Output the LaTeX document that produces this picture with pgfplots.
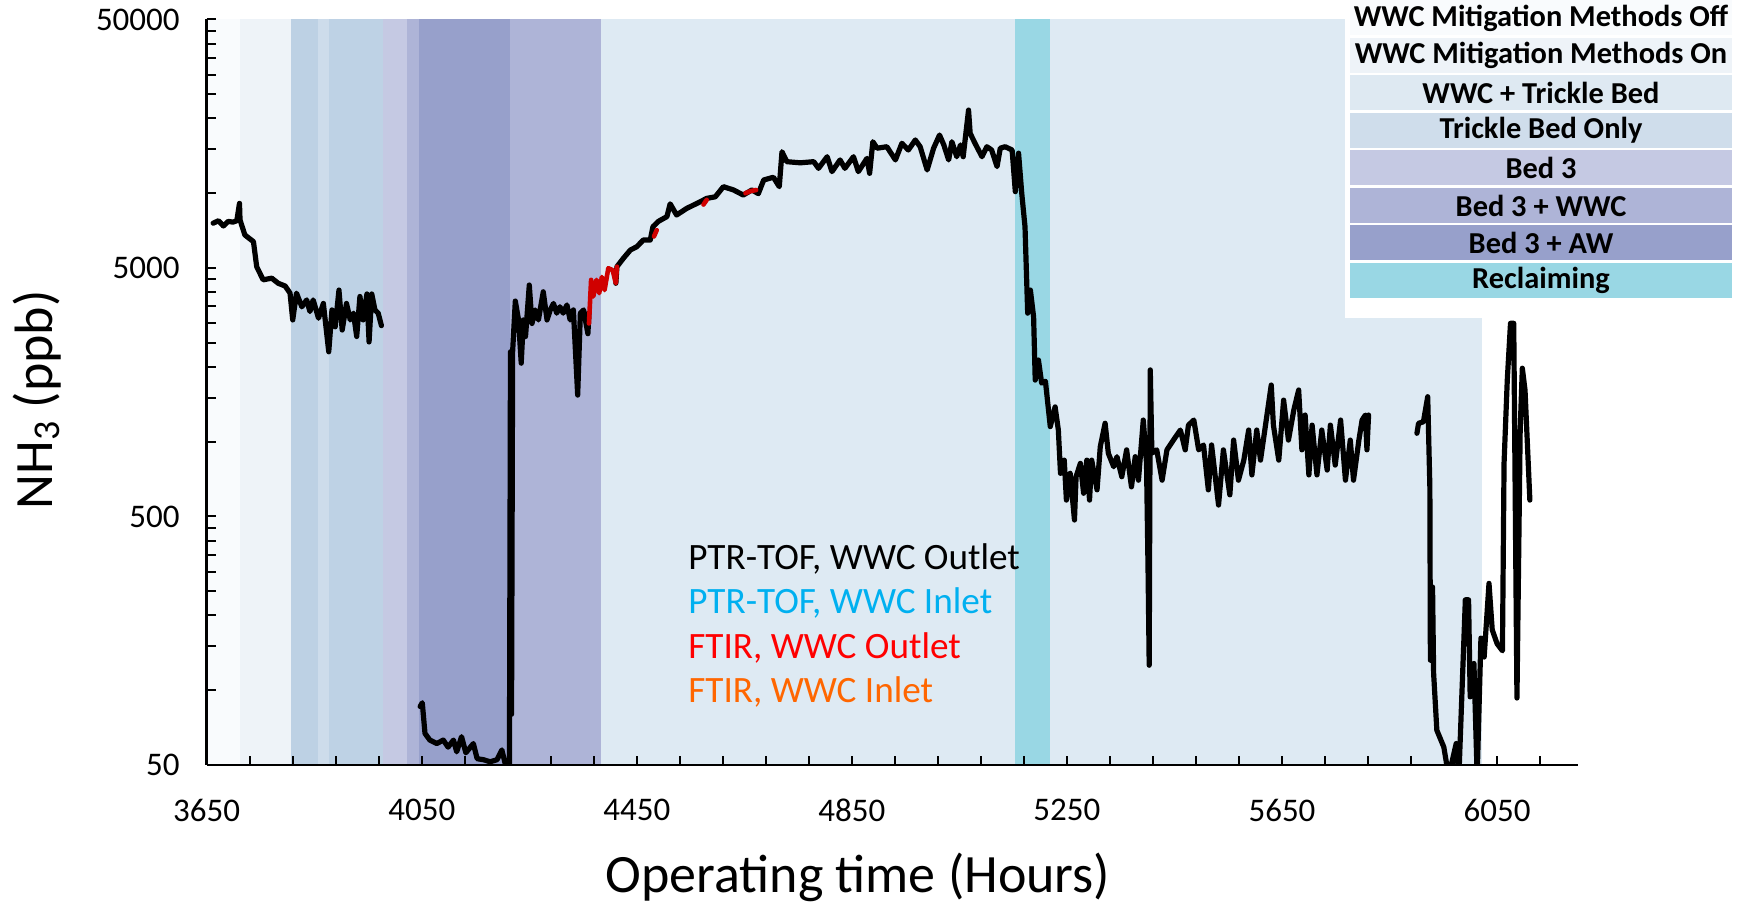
\documentclass[border=0pt]{standalone}
\usepackage{pgfplots}
\pgfplotsset{compat=1.18}
\usepackage{fontspec}
\setmainfont{Carlito}
\definecolor{bOff}{HTML}{F9FBFD}
\definecolor{bOn}{HTML}{EEF3F8}
\definecolor{bTBa}{HTML}{BDD1E4}
\definecolor{bTBb}{HTML}{CDDCEB}
\definecolor{bTBc}{HTML}{BED2E5}
\definecolor{bB3}{HTML}{C5C9E3}
\definecolor{bB3W}{HTML}{AEB4D7}
\definecolor{bB3A}{HTML}{97A0CB}
\definecolor{bWT}{HTML}{DEEAF3}
\definecolor{bRec}{HTML}{99D7E4}
\definecolor{lWT}{HTML}{DEE9F2}
\definecolor{lTB}{HTML}{CFDDEB}
\definecolor{ftirred}{HTML}{D00000}
\definecolor{ptrblue}{HTML}{00B0F0}
\definecolor{ftirorange}{HTML}{FF6600}
\begin{document}
\begin{tikzpicture}
\path (-103.35pt,-69pt) rectangle (766.15pt,382.5pt);
\begin{axis}[
  at={(0pt,0pt)}, anchor=south west,
  scale only axis, width=685.5pt, height=372.75pt,
  xmin=3650, xmax=6200, ymin=50, ymax=50000, ymode=log,
  axis x line=bottom, axis y line=left,
  axis line style={-, line width=1.2pt},
  xtick={3650,4050,4450,4850,5250,5650,6050},
  xticklabels={3650,4050,4450,4850,5250,5650,6050},
  minor xtick={3730,3810,...,6130},
  ytick={50,500,5000,50000}, yticklabels={50,500,5000,50000},
  minor ytick={},
  tick align=inside, major tick length=4.5pt, minor tick length=4.5pt,
  tick style={black, line width=1pt},
  ticklabel style={font=\fontsize{16.5}{18}\selectfont},
  xticklabel style={yshift=-13.5pt},
  yticklabel style={xshift=-10pt},
  xlabel={Operating time (Hours)},
  ylabel={NH\textsubscript{3} (ppb)},
  label style={font=\fontsize{27}{30}\selectfont, inner sep=0pt},
  xlabel style={at={(axis description cs:0.475,-0.1502)}, anchor=center},
  ylabel style={at={(axis description cs:-0.1238,0.49)}, anchor=center, rotate=0},
  axis on top,
]
% background bands
\addplot[draw=none, fill=bOff] coordinates {(3650,50) (3650,50000) (3712,50000) (3712,50)};
\addplot[draw=none, fill=bOn] coordinates {(3712,50) (3712,50000) (3807,50000) (3807,50)};
\addplot[draw=none, fill=bTBa] coordinates {(3807,50) (3807,50000) (3856.5,50000) (3856.5,50)};
\addplot[draw=none, fill=bTBb] coordinates {(3856.5,50) (3856.5,50000) (3877.5,50000) (3877.5,50)};
\addplot[draw=none, fill=bTBc] coordinates {(3877.5,50) (3877.5,50000) (3977,50000) (3977,50)};
\addplot[draw=none, fill=bB3] coordinates {(3977,50) (3977,50000) (4022,50000) (4022,50)};
\addplot[draw=none, fill=bB3W] coordinates {(4022,50) (4022,50000) (4045,50000) (4045,50)};
\addplot[draw=none, fill=bB3A] coordinates {(4045,50) (4045,50000) (4214,50000) (4214,50)};
\addplot[draw=none, fill=bB3W] coordinates {(4214,50) (4214,50000) (4384,50000) (4384,50)};
\addplot[draw=none, fill=bWT] coordinates {(4384,50) (4384,50000) (5154,50000) (5154,50)};
\addplot[draw=none, fill=bRec] coordinates {(5154,50) (5154,50000) (5219,50000) (5219,50)};
\addplot[draw=none, fill=bWT] coordinates {(5219,50) (5219,50000) (6022,50000) (6022,50)};
% PTR-TOF, WWC outlet
\addplot[black, line width=2.6pt, line join=round, line cap=round] table {
3662 7570
3672 7750
3681 7380
3690 7700
3699 7650
3706 7750
3711 9100
3712 7800
3721 6790
3737 6380
3743 5060
3755 4480
3771 4550
3783 4340
3796 4230
3805 3960
3810 3090
3817 3960
3827 3490
3836 3720
3842 3340
3848 3720
3858 3140
3867 3600
3877 2300
3883 3390
3889 2900
3896 4075
3902 2815
3910 3600
3917 3090
3923 3290
3929 2650
3935 3840
3941 3090
3948 3930
3952 2520
3957 3930
3963 3390
3969 3290
3975 2930
};
\addplot[black, line width=2.6pt, line join=round, line cap=round] table {
4047 86
4051 89
4056 67
4065 63
4078 61
4090 63
4099 59
4109 63
4115 56.5
4124 65
4132 56
4146 61
4153 53
4165 52.5
4177 51.5
4190 52.5
4199 57.5
4205 50.8
4211 49
4213 45
4215 2300
4217 80
4219 2300
4224 3680
4230 3090
4235 2070
4239 3090
4243 2650
4250 4270
4255 2990
4261 3390
4267 3090
4276 4010
4283 3090
4289 3390
4295 3600
4301 3290
4307 3490
4313 3290
4320 3550
4326 3090
4332 3390
4340 1540
4345 3290
4351 3390
4359 2720
4361 3290
};
\addplot[black, line width=2.6pt, line join=round, line cap=round] table {
4411 4340
4413 5060
4425 5470
4438 5905
4450 6090
4462 6480
4475 6480
4480 7330
4490 7700
4506 8050
4512 9060
4524 8170
4543 8690
4562 9100
4580 9530
4596 9670
4611 10620
4630 10300
4648 9830
4664 10300
4676 9960
4686 11300
4704 11590
4715 10620
4720 14680
4729 13390
4754 13250
4779 13390
4788 12590
4804 14020
4813 12210
4828 13610
4837 12590
4853 14020
4862 12210
4878 13810
4883 12020
4889 16110
4897 15170
4915 15380
4931 13610
4943 15880
4955 14920
4968 16370
4977 15380
4990 12400
5002 15170
5013 17140
5021 15640
5030 13610
5036 16110
5045 14020
5052 15640
5057 14020
5067 21600
5070 17420
5079 15880
5092 14020
5101 15380
5110 14920
5120 12790
5126 15170
5135 15380
5148 14920
5154 10140
5160 14490
5166 9960
5172 7330
5177 3290
5182 4075
5188 3180
5191 1770
5197 2130
5203 1720
5210 1750
5219 1150
5228 1380
5234 1115
5238 746
5245 843
5249 582
5256 746
5264 484
5267 723
5275 818
5281 620
5287 843
5292 582
5296 843
5306 640
5312 955
5321 1186
5327 898
5337 793
5343 870
5352 723
5361 927
5370 658
5377 870
5383 700
5392 1222
5398 818
5401 291
5403 126
5405 1945
5408 900
5417 927
5427 700
5436 927
5448 1015
5461 1114
5470 927
5476 1166
5486 1222
5495 927
5504 970
5513 640
5519 970
5532 556
5541 927
5553 611
5560 1015
5569 700
5579 843
5588 1114
5594 735
5603 1114
5610 843
5622 1280
5630 1690
5634 1166
5644 843
5653 1470
5662 1015
5672 1342
5681 1614
5687 927
5693 1280
5700 735
5706 1166
5715 735
5724 1114
5734 769
5740 1166
5749 805
5759 1222
5768 700
5777 1015
5783 700
5793 1015
5799 1222
5805 1280
5808 927
5811 1280
};
\addplot[black, line width=2.6pt, line join=round, line cap=round] table {
5901 1081
5904 1186
5913 1202
5921 1517
5925 659
5926 132
5930 260
5932 117
5938 69
5951 59
5960 45
5974 61
5979 45
5991 231
5997 231
6000 94
6007 128
6013 45
6020 162
6026 136
6035 269
6041 175
6050 154
6060 144
6063 818
6069 1770
6075 2995
6081 2995
6087 93
6093 1114
6097 1975
6102 1614
6111 582
};
% FTIR, WWC outlet
\addplot[ftirred, line width=2.3pt, line join=round, line cap=round] table {
4361 2990
4365 4480
4369 3840
4375 4480
4380 3960
4385 4600
4390 4075
4397 4990
4405 4900
4411 4340
4413 5060
};
\addplot[ftirred, line width=2.3pt, line cap=round] table {
4482 6700
4487 7100
};
\addplot[ftirred, line width=2.3pt, line cap=round] table {
4574 9000
4580 9400
};
\addplot[ftirred, line width=2.3pt, line cap=round] table {
4652 10000
4662 10200
4672 10300
};
\end{axis}
% series legend
\begin{scope}[every node/.style={anchor=base west, inner sep=0pt, font=\fontsize{18.6}{22}\selectfont}]
\node[text=black] at (240.65pt,97.5pt) {PTR-TOF, WWC Outlet};
\node[text=ptrblue] at (240.65pt,75.5pt) {PTR-TOF, WWC Inlet};
\node[text=red] at (240.65pt,53pt) {FTIR, WWC Outlet};
\node[text=ftirorange] at (240.65pt,31pt) {FTIR, WWC Inlet};
\end{scope}
% band legend
\fill[white] (569.15pt,223.5pt) rectangle (766.15pt,382.5pt);
\begin{scope}[every node/.style={anchor=center, inner sep=0pt, font=\bfseries\fontsize{15.2}{16}\selectfont}]
\fill[bOff] (571.65pt,365pt) rectangle (762.65pt,382.5pt);
\node at (667.15pt,373.5pt) {WWC Mitigation Methods Off};
\fill[bOn] (571.65pt,346pt) rectangle (762.65pt,363.5pt);
\node at (667.15pt,354.75pt) {WWC Mitigation Methods On};
\fill[lWT] (571.65pt,327.5pt) rectangle (762.65pt,345pt);
\node at (667.15pt,336.25pt) {WWC + Trickle Bed};
\fill[lTB] (571.65pt,308.5pt) rectangle (762.65pt,326pt);
\node at (667.15pt,317.25pt) {Trickle Bed Only};
\fill[bB3] (571.65pt,290pt) rectangle (762.65pt,307.5pt);
\node at (667.15pt,298.75pt) {Bed 3};
\fill[bB3W] (571.65pt,271pt) rectangle (762.65pt,288.5pt);
\node at (667.15pt,279.75pt) {Bed 3 + WWC};
\fill[bB3A] (571.65pt,252.5pt) rectangle (762.65pt,270pt);
\node at (667.15pt,261.25pt) {Bed 3 + AW};
\fill[bRec] (571.65pt,233.5pt) rectangle (762.65pt,251pt);
\node at (667.15pt,242.25pt) {Reclaiming};
\end{scope}
\end{tikzpicture}
\end{document}
